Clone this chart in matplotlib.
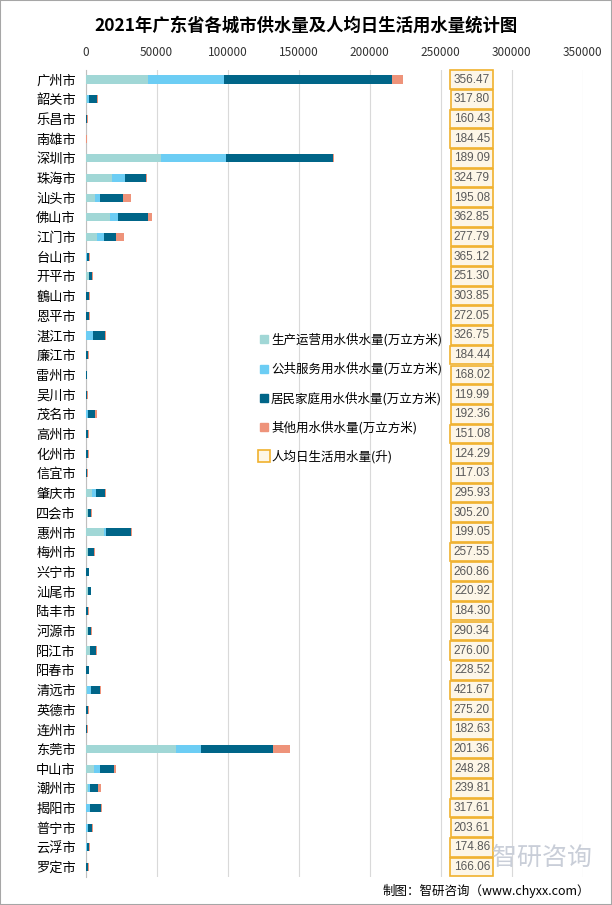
import numpy as np
import matplotlib
matplotlib.use('Agg')
import matplotlib.pyplot as plt
from matplotlib.lines import Line2D
from matplotlib.patches import Rectangle

plt.rcParams['font.family'] = ['Noto Sans CJK SC', 'DejaVu Sans']

# data
cities = ['广州市', '韶关市', '乐昌市', '南雄市', '深圳市', '珠海市', '汕头市', '佛山市', '江门市', '台山市',
          '开平市', '鶴山市', '恩平市', '湛江市', '廉江市', '雷州市', '吴川市', '茂名市', '高州市', '化州市',
          '信宜市', '肇庆市', '四会市', '惠州市', '梅州市', '兴宁市', '汕尾市', '陆丰市', '河源市', '阳江市',
          '阳春市', '清远市', '英德市', '连州市', '东莞市', '中山市', '潮州市', '揭阳市', '普宁市', '云浮市', '罗定市']

production = [43900, 1000, 200, 100, 53000, 18500, 6600, 17100, 8000, 300,
              2300, 300, 300, 500, 200, 100, 100, 500, 200, 200,
              100, 4500, 1300, 12900, 1300, 200, 1300, 200, 1300, 2800,
              200, 700, 200, 100, 63600, 5900, 1600, 300, 300, 300, 200]
public = [53500, 1200, 200, 100, 45800, 9200, 3500, 5600, 4900, 300,
          200, 200, 200, 4700, 200, 100, 100, 1100, 200, 200,
          100, 2800, 300, 1400, 400, 200, 300, 200, 300, 300,
          200, 3000, 200, 100, 17600, 4200, 1400, 2800, 1300, 600, 200]
household = [118300, 5600, 700, 200, 75350, 14800, 16200, 21100, 8500, 1500,
             2000, 1700, 1700, 8400, 1100, 700, 600, 4900, 1000, 1100,
             900, 6300, 2100, 17600, 4200, 1900, 2100, 1200, 2100, 4200,
             1900, 6300, 1200, 700, 50700, 9900, 5600, 7700, 2800, 1400, 1300]
other = [7700, 700, 300, 500, 700, 700, 5600, 2800, 5600, 900,
         700, 700, 600, 700, 900, 100, 600, 1400, 900, 800,
         500, 700, 700, 700, 700, 100, 100, 700, 700, 700,
         100, 700, 700, 500, 12000, 1400, 2100, 700, 700, 700, 700]
per_capita = [356.47, 317.80, 160.43, 184.45, 189.09, 324.79, 195.08, 362.85, 277.79, 365.12,
              251.30, 303.85, 272.05, 326.75, 184.44, 168.02, 119.99, 192.36, 151.08, 124.29,
              117.03, 295.93, 305.20, 199.05, 257.55, 260.86, 220.92, 184.30, 290.34, 276.00,
              228.52, 421.67, 275.20, 182.63, 201.36, 248.28, 239.81, 317.61, 203.61, 174.86, 166.06]

series = [production, public, household, other]
names = ['生产运营用水供水量(万立方米)', '公共服务用水供水量(万立方米)',
         '居民家庭用水供水量(万立方米)', '其他用水供水量(万立方米)']
colors = ['#A1D7D6', '#6CCDF4', '#006588', '#EE937A']

fig = plt.figure(figsize=(6.12, 9.05), dpi=100)
ax = fig.add_axes([0.14, 0.031, 0.812, 0.892])

y = np.arange(len(cities))
left = np.zeros(len(cities))
for vals, c in zip(series, colors):
    ax.barh(y, vals, left=left, height=0.41, color=c, zorder=3)
    left += np.array(vals)

# per capita values as boxed labels
for yi, v in zip(y, per_capita):
    ax.text(272000, yi, '%.2f' % v, ha='center', va='center', fontsize=8.5, color='#595959',
            family=['Liberation Sans'],
            bbox=dict(boxstyle='square,pad=0.28', facecolor='#FDF6E7', edgecolor='#F0B12E', lw=1.2),
            zorder=4)

ax.set_xlim(0, 350000)
ax.set_ylim(len(cities) - 0.5, -0.5)
ax.set_xticks(np.arange(0, 350001, 50000))
ax.xaxis.tick_top()
ax.tick_params(axis='x', length=0, labelsize=8.5, labelcolor='#333333', pad=8)
ax.tick_params(axis='y', length=0, labelsize=9.5, pad=7)
ax.set_yticks(y)
ax.set_yticklabels(cities)
ax.grid(axis='x', color='#D9D9D9', lw=0.8, zorder=0)
for s in ['top', 'right', 'bottom']:
    ax.spines[s].set_visible(False)
ax.spines['left'].set_color('#BFBFBF')

fig.text(0.5, 0.972, '2021年广东省各城市供水量及人均日生活用水量统计图', ha='center', va='center',
         fontsize=12.5, fontweight='bold')

handles = [Line2D([], [], marker='s', ls='', markersize=6, color=c) for c in colors]
handles.append(Line2D([], [], marker='s', ls='', markersize=8, markerfacecolor='#FDF6E7',
                      markeredgecolor='#F0B12E', markeredgewidth=1.2))
fig.legend(handles, names + ['人均日生活用水量(升)'], loc='upper left', bbox_to_anchor=(246 / 612, 1 - 322 / 905),
           frameon=False, fontsize=9, labelspacing=1.25, handletextpad=0.1, handlelength=1.0)

# watermark and source
fig.text(0.885, 0.052, '智研咨询', ha='center', va='center', fontsize=18, color='#C9CED8', zorder=0)
fig.text(0.625, 0.016, '制图：智研咨询（www.chyxx.com）', ha='left', va='center', fontsize=9)

fig.add_artist(Rectangle((0, 0), 1, 1, transform=fig.transFigure, fill=False, ec='#A6A6A6', lw=1.5))

fig.savefig('out.png', dpi=100)
